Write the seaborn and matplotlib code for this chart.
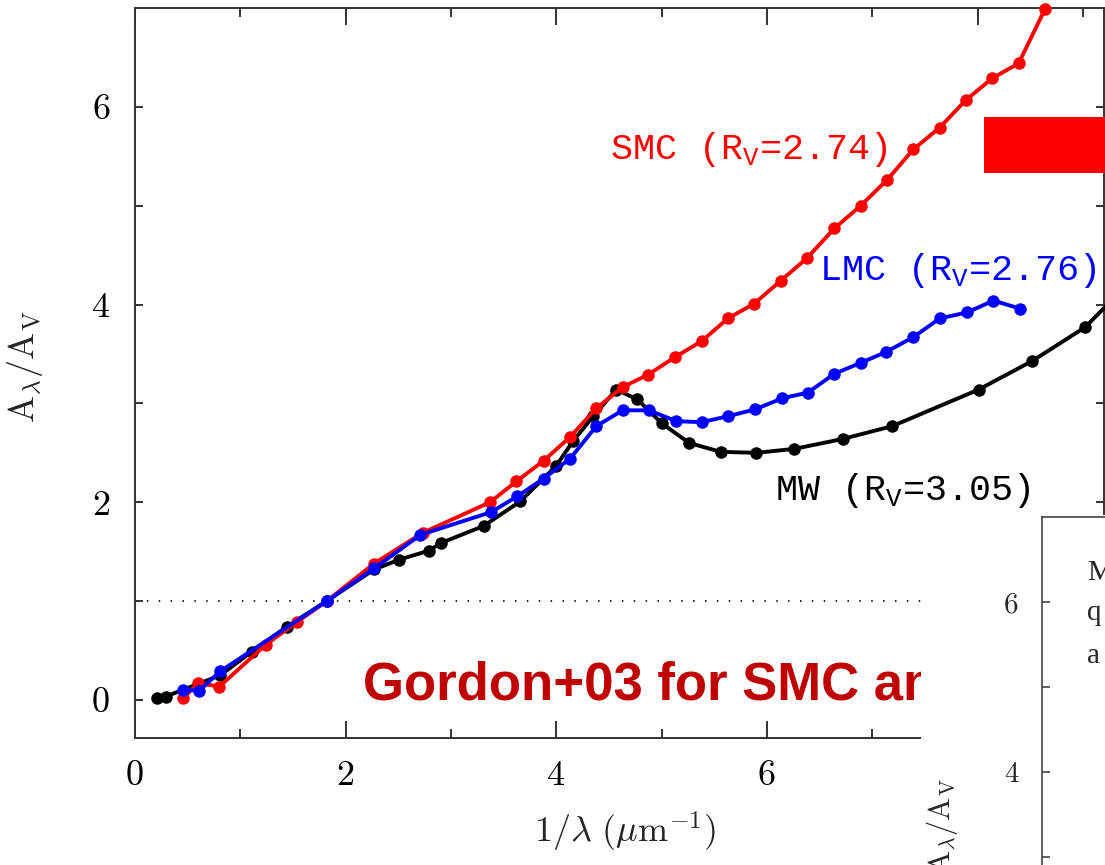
import matplotlib
matplotlib.use("Agg")
import matplotlib.pyplot as plt
import seaborn as sns
import pandas as pd
from matplotlib.patches import Rectangle

sns.set_style("ticks")
plt.rcParams['font.family'] = ['DejaVu Sans']
plt.rcParams['mathtext.fontset'] = 'cm'
plt.rcParams['mathtext.rm'] = 'Liberation Mono'
plt.rcParams['mathtext.it'] = 'Liberation Mono:italic'
plt.rcParams['mathtext.bf'] = 'Liberation Mono:bold'

# Average extinction curves, A_lambda / A_V versus inverse wavelength (1/micron)
mw_x = [0.21, 0.29, 0.81, 1.11, 1.44, 1.82, 2.27, 2.51, 2.79, 2.91, 3.31, 3.66, 4.00, 4.16,
        4.35, 4.57, 4.77, 5.00, 5.26, 5.56, 5.90, 6.26, 6.72, 7.19, 8.01, 8.52, 9.02, 9.40]
mw_y = [0.017, 0.034, 0.25, 0.49, 0.74, 1.00, 1.32, 1.42, 1.51, 1.59, 1.76, 2.01, 2.37, 2.62,
        2.87, 3.14, 3.04, 2.80, 2.60, 2.51, 2.50, 2.54, 2.64, 2.77, 3.14, 3.43, 3.77, 4.18]

smc_x = [0.455, 0.60, 0.80, 1.24, 1.54, 1.82, 2.27, 2.73, 3.37, 3.62, 3.88, 4.13, 4.38, 4.63,
         4.87, 5.13, 5.38, 5.63, 5.88, 6.13, 6.38, 6.64, 6.89, 7.14, 7.39, 7.64, 7.89, 8.14,
         8.39, 8.64]
smc_y = [0.016, 0.17, 0.135, 0.557, 0.79, 1.00, 1.38, 1.69, 2.00, 2.21, 2.42, 2.66, 2.95, 3.165,
         3.29, 3.47, 3.63, 3.86, 4.01, 4.24, 4.47, 4.77, 5.00, 5.26, 5.57, 5.79, 6.07, 6.29,
         6.44, 6.99]

lmc_x = [0.46, 0.61, 0.81, 1.82, 2.27, 2.71, 3.38, 3.63, 3.88, 4.13, 4.38, 4.63, 4.88, 5.14,
         5.38, 5.63, 5.89, 6.14, 6.39, 6.64, 6.89, 7.13, 7.39, 7.64, 7.90, 8.15, 8.40]
lmc_y = [0.10, 0.094, 0.29, 1.00, 1.33, 1.67, 1.90, 2.06, 2.24, 2.44, 2.77, 2.93, 2.93, 2.82,
         2.81, 2.87, 2.94, 3.05, 3.11, 3.30, 3.41, 3.52, 3.67, 3.86, 3.92, 4.04, 3.96]

curve_labels = {
    "MW": ("MW (R$_\\mathrm{V}$=3.05)", 6.08, 2.02, "black"),
    "SMC": ("SMC (R$_\\mathrm{V}$=2.74)", 4.51, 5.47, "#ff0000"),
    "LMC": ("LMC (R$_\\mathrm{V}$=2.76)", 6.49, 4.25, "#0000ff"),
}

x_major = [0, 2, 4, 6, 8]
x_minor = [1, 3, 5, 7, 9]
y_major = [0, 2, 4, 6]
y_minor = [1, 3, 5]

W, H = 1105, 865
fig = plt.figure(figsize=(W / 100, H / 100), dpi=100)

def px_box(left, top, right, bottom):
    return [left / W, 1 - bottom / H, (right - left) / W, (bottom - top) / H]

axis_col = "#333333"

ax = fig.add_axes(px_box(135, 8, 1104, 738))
ax.set_xlim(0, 9.2)
ax.set_ylim(-0.385, 7.0)

ax.axhline(1.0, color="#222222", lw=1.5, ls=(0, (0.7, 5)), zorder=1)

series = [
    (mw_x, mw_y, "black"),
    (smc_x, smc_y, "#ff0000"),
    (lmc_x, lmc_y, "#0000ff"),
]
for xs, ys, col in series:
    df = pd.DataFrame({"x": xs, "y": ys})
    sns.lineplot(data=df, x="x", y="y", ax=ax, color=col, lw=2.8, marker="o",
                 markersize=9, markeredgewidth=0, estimator=None, sort=False,
                 clip_on=False, zorder=3)

for key, (txt, lx, ly, col) in curve_labels.items():
    ax.text(lx, ly, txt, color=col, fontsize=26.5, family="Liberation Mono",
            math_fontfamily="custom", ha="left", va="baseline")

ax.set_xticks(x_major)
ax.set_xticks(x_minor, minor=True)
ax.set_yticks(y_major)
ax.set_yticks(y_minor, minor=True)
ax.set_xticklabels([str(v) for v in x_major], fontfamily="cmr10", fontsize=26)
ax.set_yticklabels([str(v) for v in y_major], fontfamily="cmr10", fontsize=26)
ax.tick_params(which="both", direction="in", top=True, right=True, width=1.4,
               color=axis_col, labelcolor="black")
ax.tick_params(axis="x", which="major", length=12, pad=16)
ax.tick_params(axis="x", which="minor", length=6.5)
ax.tick_params(axis="y", which="both", length=6, pad=18)
for sp in ax.spines.values():
    sp.set_color(axis_col)
    sp.set_linewidth(1.4)

ax.set_xlabel(r"$1/\lambda\ (\mu\mathrm{m}^{-1})$", fontsize=26, va="center")
ax.xaxis.set_label_coords((625 - 135) / 969, -(832 - 738) / 730)
ax.set_ylabel(r"$\mathrm{A}_\lambda/\mathrm{A}_\mathrm{V}$", fontsize=26, va="center", ha="center")
ax.yaxis.set_label_coords((25 - 135) / 969, (738 - 367) / 730)

# slide overlays
fig.text(363 / W, 1 - 699 / H, "Gordon+03 for SMC and LMC", color="#c00000",
         fontsize=38, fontweight="bold", family="Liberation Sans", va="baseline", zorder=4)
fig.add_artist(Rectangle((984 / W, 1 - 173 / H), (W - 984) / W + 0.01, 56 / H,
                         transform=fig.transFigure, facecolor="#ff0000",
                         edgecolor="none", zorder=4))
fig.add_artist(Rectangle((921 / W, -0.01), (W - 921) / W + 0.01, (H - 515) / H + 0.01,
                         transform=fig.transFigure, facecolor="white",
                         edgecolor="none", zorder=5))

# second panel, partly visible
ax2 = fig.add_axes(px_box(1042, 517, 1542, 1112))
ax2.set_zorder(6)
ax2.patch.set_alpha(0)
ax2.set_ylim(0, 7)
ax2.set_xlim(0, 10)
ax2.set_xticks([])
ax2.set_yticks(y_major)
ax2.set_yticks(y_minor, minor=True)
ax2.set_yticklabels([str(v) for v in y_major], fontfamily="cmr10", fontsize=21)
ax2.tick_params(which="both", direction="in", length=6, width=1.2, color="#444444", pad=17)
for sp in ax2.spines.values():
    sp.set_color("#444444")
    sp.set_linewidth(1.2)
ax2.set_ylabel(r"$\mathrm{A}_\lambda/\mathrm{A}_\mathrm{V}$", fontsize=22, va="center", ha="center")
ax2.yaxis.set_label_coords((942 - 1042) / 500, (1112 - 826) / 595)
for t, yb in [("M", 580), ("q", 620), ("a", 663)]:
    ax2.text((1087 - 1042) / 500, (1112 - yb) / 595, t, transform=ax2.transAxes,
             fontsize=21, family="Liberation Serif", va="baseline", ha="left")

fig.savefig("out.png", dpi=100)
